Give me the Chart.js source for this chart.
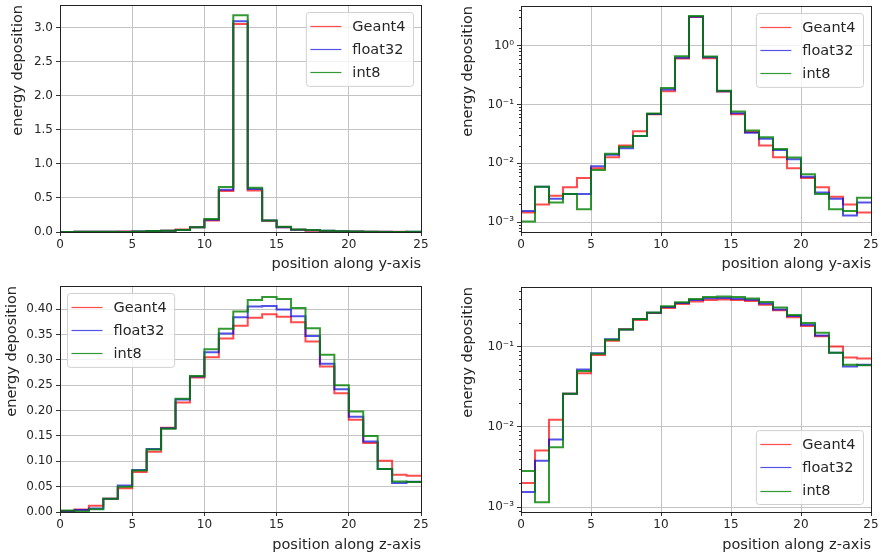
<!DOCTYPE html>
<html>
<head>
<meta charset="utf-8">
<script src="https://cdn.jsdelivr.net/npm/chart.js@4.4.0/dist/chart.umd.min.js"></script>
<style>
  body { margin: 0; background: #fff; }
  #wrap { position: relative; width: 881px; height: 557px; }
  canvas { position: absolute; }
</style>
</head>
<body>
<div id="wrap">
  <canvas id="yLin" width="440" height="280" style="left:0;top:0"></canvas>
  <canvas id="yLog" width="441" height="280" style="left:440px;top:0"></canvas>
  <canvas id="zLin" width="440" height="277" style="left:0;top:280px"></canvas>
  <canvas id="zLog" width="441" height="277" style="left:440px;top:280px"></canvas>
</div>
<script>
// bin start positions (bin width 1, last edge at 25)
const binStart = [0, 1, 2, 3, 4, 5, 6, 7, 8, 9, 10, 11, 12, 13, 14, 15, 16, 17, 18, 19, 20, 21, 22, 23, 24];
const lastEdge = 25;

// profile along y-axis
const yGeant4  = [0.00146, 0.0020, 0.0028, 0.0039, 0.0056, 0.0082, 0.0126, 0.020, 0.035, 0.068, 0.168, 0.60, 3.05, 0.61, 0.165, 0.068, 0.034, 0.020, 0.0126, 0.0082, 0.0056, 0.0039, 0.0027, 0.0020, 0.00146];
const yFloat32 = [0.00155, 0.0040, 0.0025, 0.0030, 0.0030, 0.0089, 0.0140, 0.018, 0.029, 0.069, 0.180, 0.62, 3.09, 0.63, 0.168, 0.071, 0.033, 0.026, 0.0168, 0.0117, 0.0059, 0.0032, 0.0025, 0.0013, 0.00215];
const yInt8    = [0.00103, 0.0040, 0.00215, 0.0030, 0.00166, 0.0077, 0.0145, 0.019, 0.029, 0.070, 0.190, 0.66, 3.18, 0.65, 0.170, 0.076, 0.036, 0.0276, 0.0175, 0.0125, 0.0065, 0.0030, 0.00166, 0.00155, 0.0026];

// profile along z-axis
const zGeant4  = [0.0020, 0.0051, 0.0123, 0.026, 0.047, 0.079, 0.119, 0.166, 0.216, 0.265, 0.305, 0.342, 0.367, 0.383, 0.390, 0.385, 0.374, 0.336, 0.287, 0.234, 0.182, 0.136, 0.101, 0.0734, 0.0715];
const zFloat32 = [0.00154, 0.0038, 0.0070, 0.026, 0.052, 0.083, 0.124, 0.165, 0.222, 0.267, 0.315, 0.352, 0.384, 0.405, 0.406, 0.399, 0.386, 0.347, 0.292, 0.242, 0.188, 0.139, 0.0846, 0.057, 0.0597];
const zInt8    = [0.00283, 0.00115, 0.0056, 0.026, 0.050, 0.082, 0.123, 0.164, 0.223, 0.268, 0.321, 0.361, 0.395, 0.418, 0.424, 0.420, 0.402, 0.362, 0.310, 0.250, 0.198, 0.150, 0.0846, 0.060, 0.059];

const seriesNames = ['Geant4', 'float32', 'int8'];

// tick labels
const xTicks = [0, 5, 10, 15, 20, 25];
const yLinTicks = [0, 0.5, 1.0, 1.5, 2.0, 2.5, 3.0];
const zLinTicks = [0, 0.05, 0.10, 0.15, 0.20, 0.25, 0.30, 0.35, 0.40];
const yLogTicks = [0.001, 0.01, 0.1, 1];
const zLogTicks = [0.001, 0.01, 0.1];

const colors = ['rgba(255,0,0,0.7)', 'rgba(0,0,220,0.68)', 'rgba(0,128,0,0.8)'];
const FONT = "'DejaVu Sans', sans-serif";
Chart.defaults.font.family = FONT;
Chart.defaults.color = '#262626';

const SUP = { '-': '\u207B', '0': '\u2070', '1': '\u00B9', '2': '\u00B2', '3': '\u00B3' };
function logLabel(v) {
    const e = String(Math.round(Math.log10(v)));
    return '10' + e.split('').map(c => SUP[c]).join('');
}

// frame, minor log ticks and an in-axes legend like matplotlib
const panelDecor = {
    id: 'panelDecor',
    afterDraw(chart, args, opts) {
        const { ctx, chartArea: a } = chart;
        const ys = chart.scales.y;
        ctx.save();
        // minor ticks on log axes
        if (ys.type === 'logarithmic') {
            ctx.strokeStyle = '#333';
            ctx.lineWidth = 1;
            const lo = Math.floor(Math.log10(ys.min)), hi = Math.ceil(Math.log10(ys.max));
            for (let n = lo; n <= hi; n++) {
                for (let k = 2; k <= 9; k++) {
                    const v = k * Math.pow(10, n);
                    if (v < ys.min || v > ys.max) continue;
                    const py = Math.round(ys.getPixelForValue(v)) + 0.5;
                    ctx.beginPath();
                    ctx.moveTo(a.left - 2, py);
                    ctx.lineTo(a.left, py);
                    ctx.stroke();
                }
            }
        }
        // frame
        ctx.strokeStyle = '#222';
        ctx.lineWidth = 1;
        ctx.strokeRect(Math.round(a.left) + 0.5, Math.round(a.top) + 0.5,
                       Math.round(a.right - a.left), Math.round(a.bottom - a.top));

        // legend
        const sets = chart.data.datasets;
        ctx.font = '14.5px ' + FONT;
        const textW = Math.max(...sets.map(d => ctx.measureText(d.label).width));
        const w = 46 + textW + 8, rowH = 23.3, h = 13.3 + rowH * (sets.length - 1) + 14;
        const inset = 7.5;
        const x = opts.loc.includes('right') ? a.right - inset - w : a.left + inset;
        const y = opts.loc.includes('upper') ? a.top + inset : a.bottom - inset - h;
        ctx.beginPath();
        if (ctx.roundRect) ctx.roundRect(x, y, w, h, 3); else ctx.rect(x, y, w, h);
        ctx.fillStyle = 'rgba(255,255,255,0.8)';
        ctx.fill();
        ctx.strokeStyle = '#d0d0d0';
        ctx.stroke();
        ctx.textBaseline = 'middle';
        ctx.textAlign = 'left';
        sets.forEach((d, i) => {
            const cy = y + 13.3 + i * rowH;
            ctx.strokeStyle = d.borderColor;
            ctx.lineWidth = 1.2;
            ctx.beginPath();
            ctx.moveTo(x + 4, Math.round(cy) + 0.5);
            ctx.lineTo(x + 35, Math.round(cy) + 0.5);
            ctx.stroke();
            ctx.fillStyle = '#262626';
            ctx.fillText(d.label, x + 46, cy + 1);
        });
        ctx.restore();
    }
};

function stepPoints(values) {
    const pts = binStart.map((b, i) => ({ x: b, y: values[i] }));
    pts.push({ x: lastEdge, y: values[values.length - 1] });
    return pts;
}

function makePanel(id, series, cfg) {
    const datasets = series.map((vals, i) => ({
        label: seriesNames[i],
        data: stepPoints(vals),
        borderColor: colors[i],
        borderWidth: 2,
        stepped: 'before',
        pointRadius: 0,
        fill: false,
        order: 3 - i
    }));
    const isLog = cfg.type === 'logarithmic';
    new Chart(document.getElementById(id), {
        type: 'line',
        data: { datasets },
        plugins: [panelDecor],
        options: {
            responsive: false,
            animation: false,
            events: [],
            layout: { padding: cfg.padding },
            plugins: {
                legend: { display: false },
                tooltip: { enabled: false },
                panelDecor: { loc: cfg.legend }
            },
            scales: {
                x: {
                    type: 'linear',
                    min: 0, max: lastEdge,
                    afterBuildTicks: s => { s.ticks = xTicks.map(v => ({ value: v })); },
                    afterFit: s => { s.height = cfg.xHeight; s.paddingLeft = 0; s.paddingRight = 0; },
                    ticks: { font: { size: 12 }, padding: 2, maxRotation: 0, autoSkip: false },
                    grid: { color: '#c4c4c4', tickColor: '#333', tickLength: 4 },
                    border: { display: false },
                    title: {
                        display: true, text: cfg.xTitle, align: 'end',
                        font: { size: 14.5 }, padding: { top: 0, bottom: cfg.xTitlePad }
                    }
                },
                y: {
                    type: cfg.type,
                    min: cfg.yMin, max: cfg.yMax,
                    afterBuildTicks: s => { s.ticks = cfg.yTicks.map(v => ({ value: v })); },
                    afterFit: s => { s.width = cfg.yWidth; s.paddingTop = 0; s.paddingBottom = 0; },
                    ticks: {
                        font: { size: 12 }, padding: 3, autoSkip: false,
                        callback: isLog ? (v => logLabel(v)) : (v => v.toFixed(cfg.digits))
                    },
                    grid: { color: '#c4c4c4', tickColor: '#333', tickLength: 4 },
                    border: { display: false },
                    title: {
                        display: true, text: 'energy deposition', align: 'end',
                        font: { size: 14.5 }, padding: { top: cfg.yTitlePad, bottom: 0 }
                    }
                }
            }
        }
    });
}

makePanel('yLin', [yGeant4, yFloat32, yInt8], {
    type: 'linear', yMin: 0, yMax: 3.33, yTicks: yLinTicks, digits: 1,
    padding: { top: 5, right: 19, left: 0, bottom: 0 }, xHeight: 48, yWidth: 60,
    xTitle: 'position along y-axis', xTitlePad: 7.3, yTitlePad: 9.8, legend: 'upper right'
});
makePanel('yLog', [yGeant4, yFloat32, yInt8], {
    type: 'logarithmic', yMin: 0.00068, yMax: 4.7, yTicks: yLogTicks,
    padding: { top: 6, right: 10, left: 0, bottom: 0 }, xHeight: 48, yWidth: 81,
    xTitle: 'position along y-axis', xTitlePad: 7.3, yTitlePad: 19.3, legend: 'upper right'
});
makePanel('zLin', [zGeant4, zFloat32, zInt8], {
    type: 'linear', yMin: 0, yMax: 0.4455, yTicks: zLinTicks, digits: 2,
    padding: { top: 6, right: 19, left: 0, bottom: 0 }, xHeight: 45, yWidth: 60,
    xTitle: 'position along z-axis', xTitlePad: 3.3, yTitlePad: 3.3, legend: 'upper left'
});
makePanel('zLog', [zGeant4, zFloat32, zInt8], {
    type: 'logarithmic', yMin: 0.00087, yMax: 0.558, yTicks: zLogTicks,
    padding: { top: 7, right: 10, left: 0, bottom: 0 }, xHeight: 45, yWidth: 81,
    xTitle: 'position along z-axis', xTitlePad: 3.3, yTitlePad: 19.3, legend: 'lower right'
});
</script>
</body>
</html>
